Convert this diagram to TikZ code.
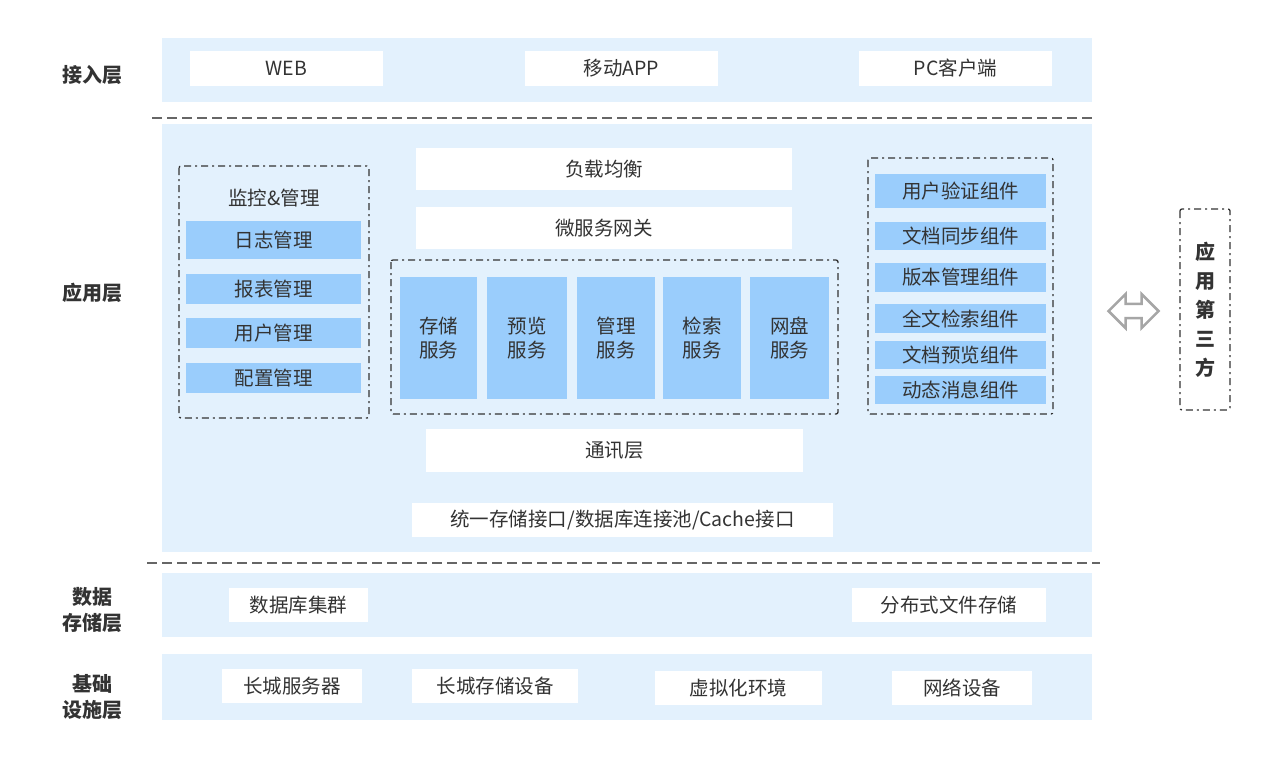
\documentclass[tikz,border=0pt]{standalone}
\usepackage{fontspec}
\setmainfont{Noto Sans CJK SC}
\usetikzlibrary{positioning,shapes.arrows}
\definecolor{panelblue}{HTML}{E3F1FD}
\definecolor{boxblue}{HTML}{9ACDFC}
\definecolor{txt}{HTML}{333333}
\tikzset{every picture/.style={/utils/exec={\fontsize{19.5}{24}\selectfont}}}
\tikzset{
  panel/.style={fill=panelblue,draw=none,inner sep=0},
  wbox/.style={fill=white,draw=none,text=txt,inner sep=0},
  bbox/.style={fill=boxblue,draw=none,text=txt,inner sep=0,align=center},
  grp/.style={draw=black!80,line width=1.3pt,dash pattern=on 7pt off 4pt on 2pt off 4pt,rounded corners=2pt},
  lbl/.style={text=txt,font=\fontsize{20}{26}\selectfont\bfseries,align=center}
}
\begin{document}
\begin{tikzpicture}[x=1pt,y=-1pt]
  \useasboundingbox (0,0) rectangle (1268,760);

  % panels
  \fill[panelblue] (162,38) rectangle (1092,102);
  \fill[panelblue] (162,124) rectangle (1092,552);
  \fill[panelblue] (162,573) rectangle (1092,637);
  \fill[panelblue] (162,654) rectangle (1092,720);
  \draw[black!60,line width=1.3pt,dash pattern=on 10pt off 5pt] (152,118) -- (1092,118);
  \draw[black!60,line width=1.3pt,dash pattern=on 10pt off 5pt] (147,563) -- (1100,563);

  % layer labels
  \node[lbl] (l1) at (92,75) {接入层};
  \node[lbl] (l2) at (92,293) {应用层};
  \node[lbl] (l3) at (92,610) {数据\\存储层};
  \node[lbl] (l4) at (92,697) {基础\\设施层};

  % access layer
  \node[wbox,minimum width=193,minimum height=35] (web) at (286.5,68.5) {WEB};
  \node[wbox,minimum width=193,minimum height=35] (app) at (621.5,68.5) {移动APP};
  \node[wbox,minimum width=193,minimum height=35] (pc) at (955.5,68.5) {PC客户端};

  % monitoring group
  \draw[grp] (179,166) rectangle (369,418);
  \node[text=txt] (mon) at (274,198) {监控\&管理};
  \node[bbox,minimum width=175,minimum height=38] (log) at (273.5,240) {日志管理};
  \node[bbox,minimum width=175,minimum height=30] (rep) at (273.5,289) {报表管理};
  \node[bbox,minimum width=175,minimum height=30] (usr) at (273.5,333) {用户管理};
  \node[bbox,minimum width=175,minimum height=30] (cfg) at (273.5,378) {配置管理};

  % gateway
  \node[wbox,minimum width=376,minimum height=42] (lb) at (604,169) {负载均衡};
  \node[wbox,minimum width=376,minimum height=42] (gw) at (604,228) {微服务网关};

  % services
  \draw[grp] (391,260) rectangle (838,414);
  \node[bbox,minimum width=77,minimum height=122] (s1) at (438.5,338) {存储\\服务};
  \node[bbox,minimum width=80,minimum height=122] (s2) at (527,338) {预览\\服务};
  \node[bbox,minimum width=78,minimum height=122] (s3) at (616,338) {管理\\服务};
  \node[bbox,minimum width=78,minimum height=122] (s4) at (702,338) {检索\\服务};
  \node[bbox,minimum width=79,minimum height=122] (s5) at (789.5,338) {网盘\\服务};

  % components
  \draw[grp] (868,158) rectangle (1053,414);
  \node[bbox,minimum width=171,minimum height=34] (c1) at (960.5,191) {用户验证组件};
  \node[bbox,minimum width=171,minimum height=28] (c2) at (960.5,236) {文档同步组件};
  \node[bbox,minimum width=171,minimum height=29] (c3) at (960.5,277.5) {版本管理组件};
  \node[bbox,minimum width=171,minimum height=29] (c4) at (960.5,318.5) {全文检索组件};
  \node[bbox,minimum width=171,minimum height=28] (c5) at (960.5,355) {文档预览组件};
  \node[bbox,minimum width=171,minimum height=28] (c6) at (960.5,390) {动态消息组件};

  % bottom of app layer
  \node[wbox,minimum width=377,minimum height=43] (com) at (614.5,450.5) {通讯层};
  \node[wbox,minimum width=421,minimum height=34] (ifc) at (622.5,520) {统一存储接口/数据库连接池/Cache接口};

  % data layer
  \node[wbox,minimum width=139,minimum height=34] (db) at (298.5,605) {数据库集群};
  \node[wbox,minimum width=194,minimum height=34] (fs) at (949,605) {分布式文件存储};

  % infrastructure
  \node[wbox,minimum width=140,minimum height=34] (srv) at (292,686) {长城服务器};
  \node[wbox,minimum width=166,minimum height=34] (sto) at (495,686) {长城存储设备};
  \node[wbox,minimum width=167,minimum height=34] (vir) at (738.5,688) {虚拟化环境};
  \node[wbox,minimum width=140,minimum height=34] (net) at (962,688) {网络设备};

  % third party
  \node[double arrow,draw=black!35,line width=2.5pt,fill=white,minimum width=34,minimum height=50,
        double arrow head extend=6pt,inner sep=3pt] (arr) at (1133.5,311) {};
  \draw[grp] (1180,209) rectangle (1230,410);
  \node[lbl,align=center,font=\fontsize{20}{29}\selectfont\bfseries] (third) at (1205,310) {应\\用\\第\\三\\方};
\end{tikzpicture}
\end{document}
